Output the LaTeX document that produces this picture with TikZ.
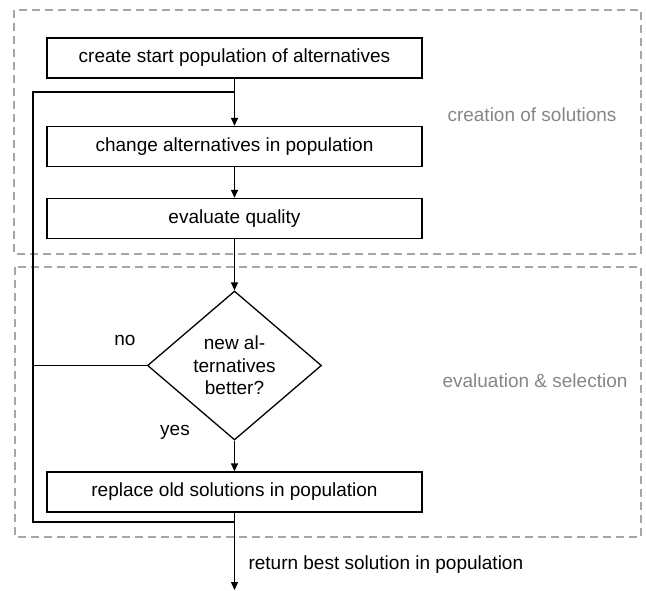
\documentclass[tikz,border=0pt]{standalone}
\usepackage{fontspec}
\setmainfont{Liberation Sans}
\usetikzlibrary{shapes.geometric,arrows.meta}
\begin{document}
\begin{tikzpicture}[x=1bp,y=-1bp,
  every node/.style={font=\fontsize{19bp}{22.5bp}\selectfont},
  procbox/.style={draw, line width=1.3bp, minimum width=375bp, minimum height=40bp, inner sep=0pt},
  decision/.style={draw, diamond, line width=1.3bp, minimum width=174bp, minimum height=149bp, inner sep=0pt, align=center},
  conn/.style={line width=1.3bp},
  arr/.style={conn, -{Triangle[length=8bp,width=7bp]}},
  grouprect/.style={draw=gray!70, line width=1.5bp, dash pattern=on 8bp off 5bp},
  grouplabel/.style={text=gray!95!white, font=\fontsize{19bp}{22.5bp}\selectfont\color{black!52}}
]
\useasboundingbox (0,0) rectangle (646,591);
% group frames
\draw[grouprect] (14,10) rectangle (641,254);
\draw[grouprect] (15,267) rectangle (641,537);
\node[grouplabel] (g1) at (532,115) {creation of solutions};
\node[grouplabel] (g2) at (535,381) {evaluation \& selection};
% process nodes
\node[procbox] (b1) at (234.5,58) {create start population of alternatives};
\node[procbox] (b2) at (234.5,146.5) {change alternatives in population};
\node[procbox] (b3) at (234.5,218.5) {evaluate quality};
\node[decision] (dec) at (234.5,365.5) {new al-\\ternatives\\better?};
\node[procbox] (b4) at (234.5,492) {replace old solutions in population};
% helper coordinates
\coordinate (j1) at (234.5,92);
\coordinate (lb) at (234.5,522);
\coordinate (lt) at (33,92);
\coordinate (lbl) at (33,522);
\coordinate (nl) at (33,365.5);
\coordinate (fin) at (234.5,590);
% labels
\node (no) at (125,340) {no};
\node (yes) at (175,432) {yes};
\node[anchor=west] (ret) at (245,565) {return best solution in population};
% connectors
\draw[conn] (b1.south) -- (j1);
\draw[arr] (j1) -- (b2.north);
\draw[arr] (b2.south) -- (b3.north);
\draw[arr] (b3.south) -- (dec.north);
\draw[arr] (dec.south) -- (b4.north);
\draw[conn] (b4.south) -- (lb) -- (lbl) -- (lt) -- (j1);
\draw[conn] (dec.west) -- (nl);
\draw[arr] (lb) -- (fin);
\end{tikzpicture}
\end{document}
